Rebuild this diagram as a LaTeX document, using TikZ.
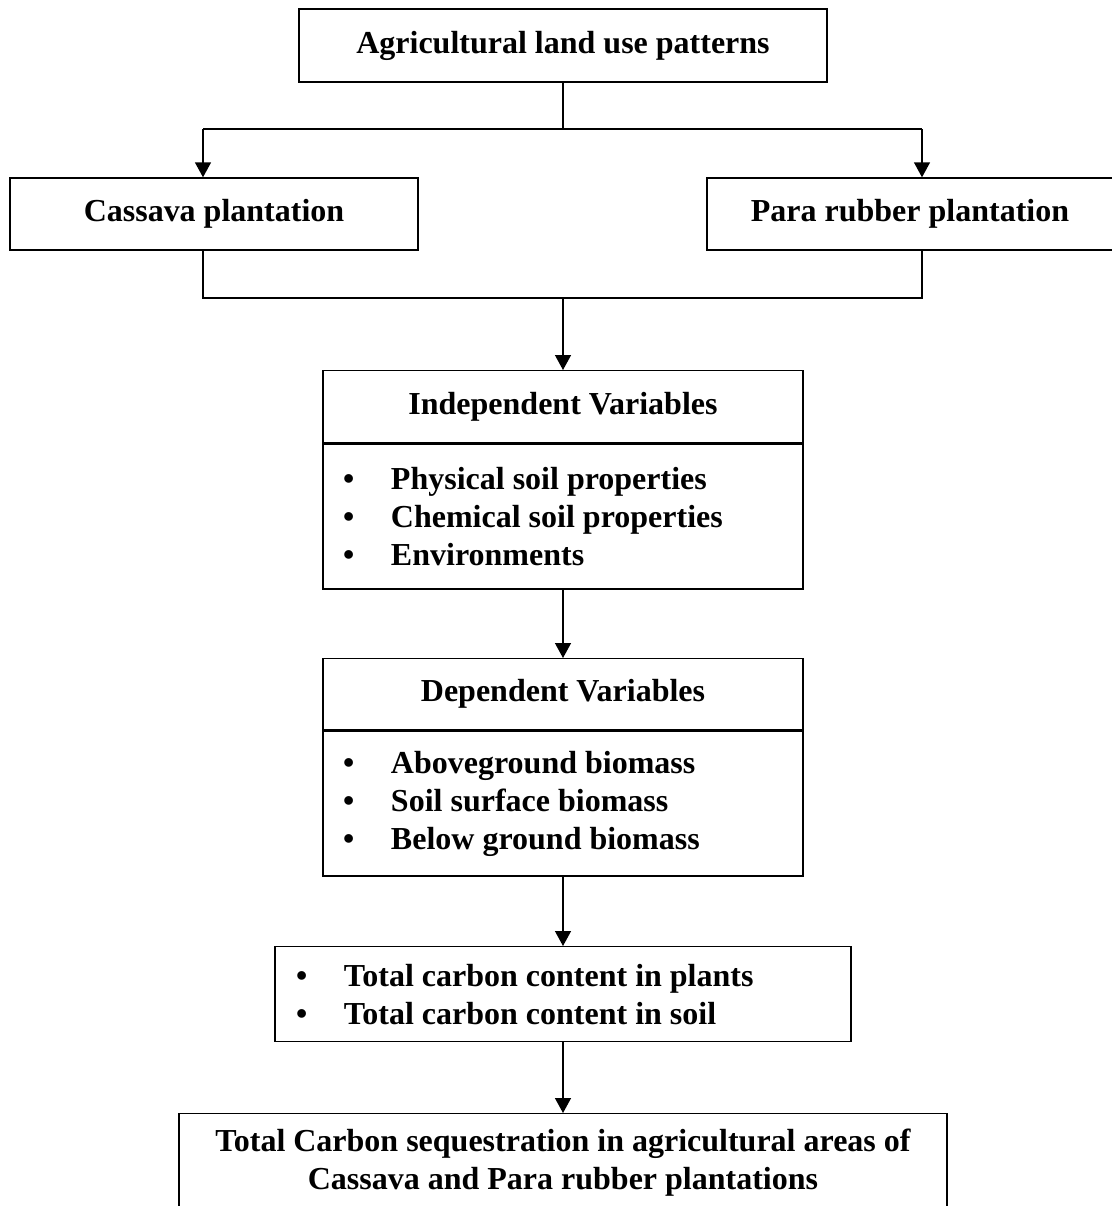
\documentclass[tikz,border=0pt]{standalone}
\usepackage{fontspec}
\setmainfont{Liberation Serif}
\usetikzlibrary{positioning, arrows.meta}

\begin{document}
\begin{tikzpicture}[
    x=0.5pt, y=-0.5pt,
    box/.style={draw, line width=0.7pt, inner sep=0pt, align=center,
        font=\fontsize{16}{19}\selectfont\bfseries},
    listbox/.style={box, align=flush left, inner xsep=10pt},
    arr/.style={-{Triangle[length=7.5pt, width=8pt]}, line width=0.7pt},
    link/.style={line width=0.7pt},
  ]
  \useasboundingbox (0,0) rectangle (1112,1206);

  % Land use (top)
  \node[box, minimum width=264pt, minimum height=36.5pt] (landuse) at (563,45.5)
    {Agricultural land use patterns};

  % Plantations
  \node[box, minimum width=204pt, minimum height=36pt] (cassava) at (214,214)
    {Cassava plantation};
  \node[box, minimum width=203pt, minimum height=36pt] (rubber) at (910,214)
    {Para rubber plantation};

  % Independent variables
  \node[box, minimum width=240pt, minimum height=36pt, anchor=north] (indephead) at (563,370)
    {Independent Variables};
  \node[listbox, text width=220pt, minimum height=72.5pt, below=0pt of indephead] (indepbody) {%
    \makebox[24pt][l]{\textbullet}Physical soil properties\\
    \makebox[24pt][l]{\textbullet}Chemical soil properties\\
    \makebox[24pt][l]{\textbullet}Environments};

  % Dependent variables
  \node[box, minimum width=240pt, minimum height=35.5pt, anchor=north] (dephead) at (563,658)
    {Dependent Variables};
  \node[listbox, text width=220pt, minimum height=72.5pt, below=0pt of dephead] (depbody) {%
    \makebox[24pt][l]{\textbullet}Aboveground biomass\\
    \makebox[24pt][l]{\textbullet}Soil surface biomass\\
    \makebox[24pt][l]{\textbullet}Below ground biomass};

  % Carbon content
  \node[listbox, text width=267pt, inner xsep=10.5pt, minimum height=47.5pt, anchor=north] (carbon) at (563,946) {%
    \makebox[24pt][l]{\textbullet}Total carbon content in plants\\
    \makebox[24pt][l]{\textbullet}Total carbon content in soil};

  % Sequestration (bottom)
  \node[box, minimum width=384pt, minimum height=49pt, anchor=north] (sequest) at (563,1113)
    {Total Carbon sequestration in agricultural areas of\\Cassava and Para rubber plantations};

  % Split and join points
  \coordinate (splitL) at (203,129);
  \coordinate (splitR) at (922,129);
  \coordinate (joinL) at (203,298);
  \coordinate (joinR) at (922,298);

  % Connectors
  \draw[link] (landuse.south) -- (landuse.south |- splitL);
  \draw[link] (splitL) -- (splitR);
  \draw[arr] (splitL) -- (splitL |- cassava.north);
  \draw[arr] (splitR) -- (splitR |- rubber.north);
  \draw[link] (splitL |- cassava.south) -- (joinL) -- (joinR) -- (splitR |- rubber.south);
  \draw[arr] (landuse.south |- joinL) -- (indephead.north);
  \draw[arr] (indepbody.south) -- (dephead.north);
  \draw[arr] (depbody.south) -- (carbon.north);
  \draw[arr] (carbon.south) -- (sequest.north);
\end{tikzpicture}
\end{document}
